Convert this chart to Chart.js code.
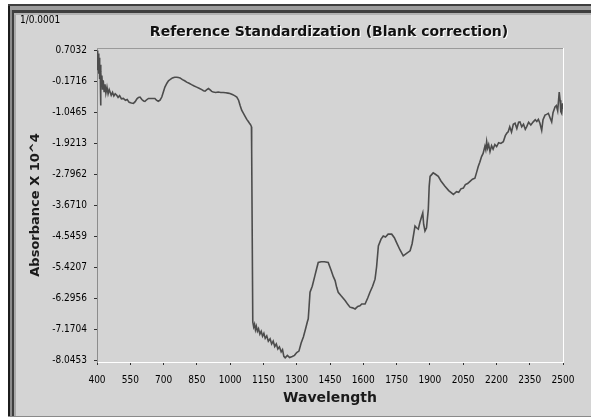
<!DOCTYPE html>
<html>
<head>
<meta charset="utf-8">
<title>Reference Standardization (Blank correction)</title>
<script src="https://cdn.jsdelivr.net/npm/chart.js@4.4.1/dist/chart.umd.min.js"></script>
<style>
  html, body { margin: 0; padding: 0; background: #ffffff; overflow: hidden; }
  #wrap { width: 591px; height: 419px; }
</style>
</head>
<body>
<div id="wrap"><canvas id="spectrum" width="591" height="419"></canvas></div>
<script>
// Blank-corrected reference spectrum, wavelength (nm) vs absorbance x 10^4
const wavelengths = [
  400, 402, 404, 406, 408, 410, 412, 414, 416, 418,
  420, 422, 425, 428, 432, 436, 440, 445, 450, 455,
  459, 464, 470, 476, 482, 489, 495, 502, 510, 519,
  528, 536, 545, 555, 564, 572, 580, 587, 594, 602,
  610, 616, 625, 632, 639, 650, 661, 668, 676, 684,
  692, 699, 706, 715, 722, 729, 740, 750, 759, 767,
  774, 785, 795, 804, 815, 826, 838, 849, 860, 872,
  880, 887, 895, 902, 910, 917, 924, 935, 946, 958,
  969, 980, 990, 999, 1010, 1020, 1030, 1038, 1045, 1052,
  1060, 1068, 1075, 1082, 1088, 1093, 1096, 1097, 1102, 1106,
  1110, 1114, 1118, 1123, 1128, 1134, 1140, 1146, 1152, 1158,
  1165, 1172, 1180, 1187, 1194, 1201, 1208, 1215, 1222, 1230,
  1236, 1242, 1248, 1258, 1268, 1280, 1290, 1300, 1310, 1320,
  1330, 1340, 1348, 1352, 1356, 1360, 1370, 1382, 1390, 1397,
  1410, 1425, 1442, 1455, 1465, 1473, 1480, 1487, 1500, 1518,
  1530, 1540, 1552, 1563, 1575, 1585, 1593, 1608, 1620, 1630,
  1642, 1653, 1660, 1668, 1680, 1690, 1700, 1712, 1728, 1740,
  1750, 1765, 1780, 1795, 1811, 1820, 1833, 1840, 1848, 1855,
  1862, 1868, 1872, 1878, 1885, 1893, 1897, 1901, 1908, 1915,
  1925, 1938, 1950, 1968, 1985, 2006, 2020, 2030, 2040, 2051,
  2060, 2070, 2081, 2092, 2103, 2110, 2118, 2125, 2133, 2140,
  2148, 2152, 2156, 2160, 2165, 2171, 2178, 2185, 2193, 2201,
  2210, 2220, 2231, 2240, 2248, 2253, 2260, 2268, 2276, 2284,
  2292, 2300, 2306, 2314, 2322, 2330, 2336, 2345, 2355, 2366,
  2375, 2382, 2389, 2396, 2404, 2410, 2419, 2426, 2434, 2442,
  2449, 2455, 2464, 2470, 2476, 2483, 2487, 2490, 2494, 2498,
  2500
];

const absorbance = [
  0.45, 0.70, 0.15, 0.62, 0.05, 0.50, -0.10, 0.30, -0.85, 0.10,
  -0.30, 0.00, -0.40, -0.14, -0.45, -0.25, -0.50, -0.33, -0.52, -0.40,
  -0.47, -0.56, -0.48, -0.58, -0.52, -0.56, -0.62, -0.57, -0.66, -0.65,
  -0.70, -0.68, -0.76, -0.78, -0.79, -0.74, -0.66, -0.62, -0.61, -0.68,
  -0.72, -0.73, -0.68, -0.65, -0.65, -0.65, -0.65, -0.70, -0.73, -0.70,
  -0.61, -0.47, -0.33, -0.22, -0.15, -0.12, -0.07, -0.05, -0.05, -0.06,
  -0.07, -0.12, -0.15, -0.19, -0.22, -0.26, -0.30, -0.33, -0.36, -0.40,
  -0.43, -0.44, -0.40, -0.37, -0.41, -0.45, -0.47, -0.48, -0.47, -0.48,
  -0.48, -0.49, -0.50, -0.51, -0.54, -0.57, -0.61, -0.70, -0.85, -0.98,
  -1.07, -1.16, -1.24, -1.30, -1.36, -1.40, -1.45, -2.10, -6.96, -7.10,
  -7.02, -7.18, -7.08, -7.22, -7.15, -7.30, -7.22, -7.36, -7.28, -7.42,
  -7.35, -7.50, -7.43, -7.58, -7.50, -7.65, -7.58, -7.72, -7.66, -7.80,
  -7.74, -7.93, -7.97, -7.90, -7.96, -7.93, -7.90, -7.82, -7.78, -7.55,
  -7.38, -7.15, -6.95, -6.87, -6.50, -6.12, -5.95, -5.65, -5.45, -5.28,
  -5.26, -5.26, -5.28, -5.50, -5.68, -5.79, -5.98, -6.12, -6.22, -6.35,
  -6.46, -6.54, -6.56, -6.59, -6.52, -6.50, -6.45, -6.45, -6.28, -6.12,
  -5.95, -5.75, -5.40, -4.81, -4.62, -4.53, -4.56, -4.48, -4.48, -4.58,
  -4.72, -4.92, -5.09, -5.02, -4.95, -4.75, -4.25, -4.30, -4.34, -4.15,
  -4.00, -3.88, -4.20, -4.39, -4.30, -3.78, -3.13, -2.85, -2.80, -2.75,
  -2.79, -2.85, -2.98, -3.13, -3.25, -3.36, -3.28, -3.30, -3.20, -3.18,
  -3.08, -3.05, -2.99, -2.93, -2.90, -2.75, -2.57, -2.45, -2.29, -2.20,
  -2.00, -2.10, -1.87, -2.05, -1.95, -2.15, -1.98, -2.08, -1.95, -2.01,
  -1.90, -1.92, -1.87, -1.70, -1.62, -1.59, -1.45, -1.60, -1.38, -1.35,
  -1.50, -1.32, -1.31, -1.45, -1.38, -1.52, -1.45, -1.32, -1.40, -1.31,
  -1.25, -1.30, -1.24, -1.35, -1.55, -1.25, -1.12, -1.10, -1.07, -1.20,
  -1.31, -1.05, -0.89, -0.85, -1.00, -0.47, -0.70, -1.02, -1.07, -0.79,
  -0.95
];

const xTickValues = [400, 550, 700, 850, 1000, 1150, 1300, 1450, 1600, 1750, 1900, 2050, 2200, 2350, 2500];
const yTickLabels = ['0.7032', '-0.1716', '-1.0465', '-1.9213', '-2.7962', '-3.6710',
                     '-4.5459', '-5.4207', '-6.2956', '-7.1704', '-8.0453'];

const chartTitle = 'Reference Standardization (Blank correction)';
const scaleNote = '1/0.0001';
const xAxisTitle = 'Wavelength';
const yAxisTitle = 'Absorbance X 10^4';

// value range of the plot box (a little margin beyond the outer ticks)
const yMin = -8.0876;
const yMax = 0.7738;

const tickFont = { family: "'DejaVu Sans Condensed', 'DejaVu Sans', sans-serif", size: 10 };
const boldFont = "'DejaVu Sans', sans-serif";

const points = wavelengths.map((w, i) => ({ x: w, y: absorbance[i] }));

// Window-style panel: grey face, bevelled frame, inset plot box, header texts
const panelPlugin = {
  id: 'panel',
  beforeDraw(chart) {
    const ctx = chart.ctx;
    const W = chart.width, H = chart.height;
    ctx.save();
    ctx.fillStyle = '#ffffff';
    ctx.fillRect(0, 0, W, H);
    ctx.fillStyle = '#d4d4d4';
    ctx.fillRect(8, 4, W - 8, H - 6);
    // left frame bands
    const left = [[8, 2, '#1c1c1c'], [10, 2, '#8c8c8c'], [12, 2, '#3e3e3e'], [14, 2, '#a9a9a9']];
    // top frame bands
    const top = [[4, 2, '#3e3e3e'], [6, 4, '#9c9c9c'], [10, 3, '#3e3e3e'], [13, 2, '#b2b2b2']];
    left.forEach(([x, w, c]) => { ctx.fillStyle = c; ctx.fillRect(x, 4, w, H - 7); });
    top.forEach(([y, h, c], k) => { ctx.fillStyle = c; ctx.fillRect(8 + 2 * k, y, W, h); });
    ctx.fillStyle = '#8a8a8a';
    ctx.fillRect(8, H - 3, W - 8, 1);
    ctx.restore();
  },
  afterDraw(chart) {
    const ctx = chart.ctx;
    const a = chart.chartArea;
    ctx.save();
    // upper and right edges of the inset plot box
    ctx.lineWidth = 1;
    ctx.strokeStyle = '#9a9a9a';
    ctx.beginPath();
    ctx.moveTo(a.left, a.top + 0.5);
    ctx.lineTo(a.right, a.top + 0.5);
    ctx.stroke();
    ctx.strokeStyle = '#ffffff';
    ctx.beginPath();
    ctx.moveTo(a.right + 0.5, a.top);
    ctx.lineTo(a.right + 0.5, a.bottom);
    ctx.stroke();

    // chart heading with a light embossed edge
    ctx.font = 'bold 14px ' + boldFont;
    ctx.textAlign = 'center';
    ctx.textBaseline = 'middle';
    const cx = (a.left + a.right) / 2 - 1;
    ctx.fillStyle = '#ffffff';
    ctx.fillText(chartTitle, cx + 1, 33);
    ctx.fillStyle = '#111111';
    ctx.fillText(chartTitle, cx, 32);

    // scale factor note
    ctx.font = '10px ' + tickFont.family;
    ctx.textAlign = 'left';
    ctx.fillStyle = '#000000';
    ctx.fillText(scaleNote, 20, 20);
    ctx.restore();
  }
};

new Chart(document.getElementById('spectrum'), {
  type: 'line',
  data: {
    datasets: [{
      data: points,
      borderColor: '#4c4c4c',
      borderWidth: 1.6,
      pointRadius: 0,
      tension: 0,
      fill: false
    }]
  },
  options: {
    responsive: false,
    devicePixelRatio: 1,
    animation: false,
    events: [],
    layout: { padding: { top: 48, right: 28, bottom: 0, left: 0 } },
    plugins: {
      legend: { display: false },
      tooltip: { enabled: false },
      title: { display: false }
    },
    scales: {
      x: {
        type: 'linear',
        min: 400,
        max: 2500,
        afterBuildTicks: s => { s.ticks = xTickValues.map(v => ({ value: v })); },
        afterFit: s => { s.height = 57; },
        ticks: {
          color: '#000000',
          font: tickFont,
          padding: 9,
          maxRotation: 0,
          autoSkip: false,
          callback: v => String(v)
        },
        grid: { drawOnChartArea: false, drawTicks: true, tickLength: 3, color: '#303030' },
        border: { display: true, color: '#ffffff', width: 1 },
        title: {
          display: true,
          text: xAxisTitle,
          color: '#1a1a1a',
          font: { family: boldFont, size: 14, weight: 'bold' },
          padding: { top: 0, bottom: 12 }
        }
      },
      y: {
        type: 'linear',
        min: yMin,
        max: yMax,
        afterBuildTicks: s => { s.ticks = yTickLabels.map(t => ({ value: parseFloat(t) })); },
        afterFit: s => { s.width = 97; },
        ticks: {
          color: '#000000',
          font: tickFont,
          padding: 7,
          autoSkip: false,
          callback: (v, i) => yTickLabels[i]
        },
        grid: { drawOnChartArea: false, drawTicks: true, tickLength: 3, color: '#303030' },
        border: { display: true, color: '#8c8c8c', width: 1 },
        title: {
          display: true,
          text: yAxisTitle,
          color: '#1a1a1a',
          font: { family: boldFont, size: 13, weight: 'bold' },
          padding: { top: 28, bottom: 0 }
        }
      }
    }
  },
  plugins: [panelPlugin]
});
</script>
</body>
</html>
